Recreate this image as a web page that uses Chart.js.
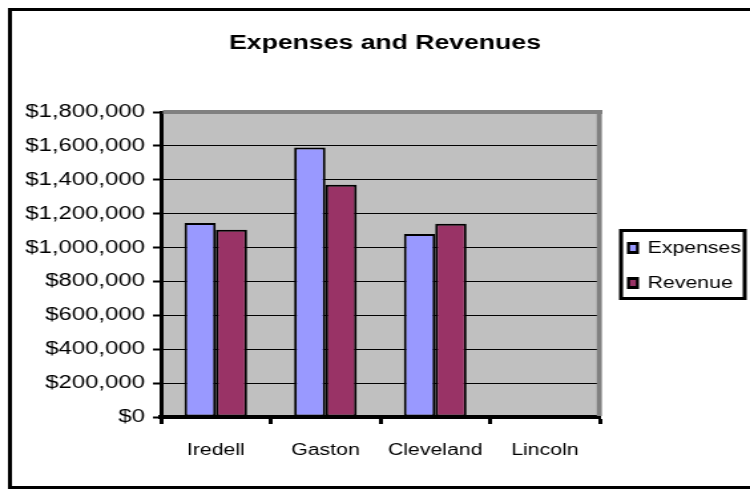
<!DOCTYPE html>
<html>
<head>
<meta charset="utf-8">
<script src="https://cdn.jsdelivr.net/npm/chart.js@4/dist/chart.umd.min.js"></script>
<style>
  html, body { margin: 0; padding: 0; background: #fff; overflow: hidden; }
  #chart { display: block; width: 750px; height: 489px; }
</style>
</head>
<body>
<!-- the original picture is stretched sideways, so the canvas is drawn narrower and widened by css -->
<canvas id="chart" width="564" height="489" style="width:750px;height:489px"></canvas>
<script>
// data
const categories = ['Iredell', 'Gaston', 'Cleveland', 'Lincoln'];
const expenses = [1145000, 1590000, 1080000, null];
const revenue = [1105000, 1370000, 1140000, null];
const yTicks = [0, 200000, 400000, 600000, 800000, 1000000, 1200000, 1400000, 1600000, 1800000];
const seriesNames = ['Expenses', 'Revenue'];
const seriesColors = ['#9999FF', '#993366'];

const W = 564;
const k = 750 / W; // horizontal stretch
const FONT = 'Arial, "Liberation Sans", sans-serif';

// gray wall, 3D edges, frame, title and legend
const decor = {
    id: 'decor',
    beforeDraw(chart) {
        const { ctx, chartArea: a } = chart;
        ctx.save();
        ctx.fillStyle = '#fff';
        ctx.fillRect(0, 0, chart.width, chart.height);
        ctx.fillStyle = '#C0C0C0';
        ctx.fillRect(a.left, a.top, a.right - a.left, a.bottom - a.top);
        ctx.restore();
    },
    afterDatasetsDraw(chart) {
        const { ctx, chartArea: a } = chart;
        ctx.save();
        ctx.fillStyle = '#808080';
        ctx.fillRect(a.left + 1.5, a.top - 2, a.right - a.left + 0.5, 4);
        ctx.fillRect(a.right - 2.2, a.top - 2, 3.8, a.bottom - a.top + 1);
        ctx.restore();
    },
    afterDraw(chart) {
        const { ctx } = chart;
        ctx.save();
        // outer frame
        ctx.strokeStyle = '#000';
        ctx.lineWidth = 3;
        ctx.strokeRect(7.5, 9.5, W + 20, 478);

        // title
        ctx.fillStyle = '#000';
        ctx.font = 'bold 20px ' + FONT;
        ctx.textAlign = 'center';
        ctx.textBaseline = 'middle';
        ctx.fillText('Expenses and Revenues', 385 / k, 43);

        // legend
        ctx.lineWidth = 3;
        ctx.strokeRect(467, 230.5, 93, 68);
        ctx.font = '16px ' + FONT;
        ctx.textAlign = 'left';
        seriesNames.forEach((name, i) => {
            const cy = 248 + i * 35;
            ctx.fillStyle = '#000';
            ctx.fillRect(471.5, cy - 6, 9, 12);
            ctx.fillStyle = seriesColors[i];
            ctx.fillRect(473.8, cy - 3, 4.4, 6);
            ctx.fillStyle = '#000';
            ctx.fillText(name, 487, cy + 1);
        });
        ctx.restore();
    }
};

new Chart(document.getElementById('chart'), {
    type: 'bar',
    data: {
        labels: categories,
        datasets: seriesNames.map((name, i) => ({
            label: name,
            data: i === 0 ? expenses : revenue,
            backgroundColor: seriesColors[i],
            borderColor: '#000',
            borderWidth: 2,
            borderSkipped: false,
            barPercentage: 1.0,
            categoryPercentage: 0.571
        }))
    },
    options: {
        responsive: false,
        devicePixelRatio: 1,
        animation: false,
        layout: { padding: { top: 112, left: 0, right: W - 451, bottom: 0 } },
        plugins: {
            legend: { display: false },
            title: { display: false },
            tooltip: { enabled: false }
        },
        scales: {
            x: {
                afterFit: s => { s.height = 72; },
                grid: {
                    drawOnChartArea: false,
                    offset: true,
                    tickLength: 7,
                    tickColor: '#000',
                    tickWidth: 3
                },
                border: { color: '#000', width: 4 },
                ticks: {
                    color: '#000',
                    padding: 17,
                    font: { family: FONT, size: 16 }
                }
            },
            y: {
                min: 0,
                max: 1800000,
                afterFit: s => { s.width = 121; },
                afterBuildTicks: s => { s.ticks = yTicks.map(v => ({ value: v })); },
                grid: {
                    color: c => (c.tick && c.tick.value === 1800000 ? 'rgba(0,0,0,0)' : '#000'),
                    lineWidth: 1,
                    tickLength: 6,
                    tickColor: '#000',
                    tickWidth: 2
                },
                border: { color: '#000', width: 3 },
                ticks: {
                    color: '#000',
                    padding: 6,
                    font: { family: FONT, size: 18 },
                    callback: v => '$' + Number(v).toLocaleString('en-US')
                }
            }
        }
    },
    plugins: [decor]
});
</script>
</body>
</html>
